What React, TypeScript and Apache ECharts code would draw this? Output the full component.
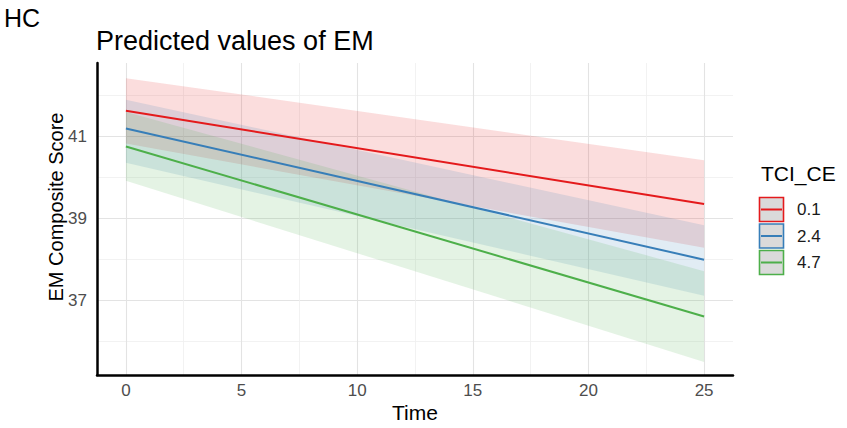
import React, { useEffect, useRef } from 'react';
import * as echarts from 'echarts';

// ---- data ----
const timePoints = [0, 25];
const tciLevels = ['0.1', '2.4', '4.7'];
const predicted = [
  [41.63, 39.35],
  [41.2, 37.99],
  [40.76, 36.6],
];
const lowerCI = [
  [40.83, 38.28],
  [40.36, 37.11],
  [39.92, 35.49],
];
const upperCI = [
  [42.43, 40.42],
  [41.9, 38.83],
  [41.6, 37.71],
];
const xMajorTicks = [0, 5, 10, 15, 20, 25];
const xMinorTicks = [2.5, 7.5, 12.5, 17.5, 22.5];
const yMajorTicks = [37, 39, 41];
const yMinorTicks = [36, 38, 40, 42];

const palette = ['#E41A1C', '#377EB8', '#4DAF4A'];
const FONT = 'Liberation Sans, Arial, Helvetica, sans-serif';

function rgba(hex: string, a: number) {
  const n = parseInt(hex.slice(1), 16);
  return `rgba(${(n >> 16) & 255},${(n >> 8) & 255},${n & 255},${a})`;
}

export default function App() {
  const ref = useRef<HTMLDivElement>(null);

  useEffect(() => {
    if (!ref.current) return;
    const chart = echarts.init(ref.current, null, { renderer: 'svg' });

    const xRange = { min: -1.25, max: 26.25 };
    const yRange = { min: 35.17, max: 42.8 };

    const lineSeries = tciLevels.map((lvl, i) => ({
      name: lvl,
      type: 'line',
      xAxisIndex: 0,
      yAxisIndex: 0,
      data: timePoints.map((t, j) => [t, predicted[i][j]]),
      showSymbol: false,
      symbol: 'none',
      lineStyle: { color: palette[i], width: 2 },
      itemStyle: { color: palette[i] },
      z: 5,
      silent: true,
    }));

    const ribbonSeries = {
      type: 'custom',
      xAxisIndex: 0,
      yAxisIndex: 0,
      data: tciLevels.map((_, i) => [i]),
      encode: { x: 0, y: 0 },
      silent: true,
      z: 2,
      renderItem: (params: any, api: any) => {
        const g = api.value(0);
        const up = timePoints.map((t, j) => api.coord([t, upperCI[g][j]]));
        const lo = timePoints.map((t, j) => api.coord([t, lowerCI[g][j]])).reverse();
        return {
          type: 'polygon',
          shape: { points: up.concat(lo) },
          style: { fill: rgba(palette[g], 0.15) },
        };
      },
    };

    const legendGraphics: any[] = [
      {
        type: 'text',
        left: 761,
        top: 163,
        style: { text: 'TCI_CE', fontSize: 21, fontFamily: FONT, fill: '#000' },
      },
    ];
    tciLevels.forEach((lvl, i) => {
      const cy = 209.5 + i * 26.5;
      legendGraphics.push({
        type: 'rect',
        shape: { x: 759.5, y: cy - 12, width: 24, height: 24 },
        style: { fill: '#dadada', stroke: palette[i], lineWidth: 1.6 },
      });
      legendGraphics.push({
        type: 'line',
        shape: { x1: 761, y1: cy, x2: 782, y2: cy },
        style: { stroke: palette[i], lineWidth: 2 },
      });
      legendGraphics.push({
        type: 'text',
        x: 797,
        y: cy,
        style: {
          text: lvl,
          fontSize: 17,
          fontFamily: FONT,
          fill: '#1a1a1a',
          verticalAlign: 'middle',
        },
      });
    });

    const option: any = {
      animation: false,
      backgroundColor: '#ffffff',
      textStyle: { fontFamily: FONT },
      grid: { left: 97, top: 63, width: 636, height: 312, containLabel: false },
      xAxis: [
        {
          type: 'value',
          ...xRange,
          position: 'bottom',
          axisLine: { show: true, onZero: false, lineStyle: { color: '#000', width: 2.5 } },
          axisTick: { show: false, customValues: xMajorTicks },
          axisLabel: {
            customValues: xMajorTicks,
            color: '#4d4d4d',
            fontSize: 17,
            margin: 7,
            fontFamily: FONT,
          },
          splitLine: { show: true, lineStyle: { color: '#e3e3e3', width: 1.1 } },
        },
        {
          type: 'value',
          ...xRange,
          position: 'top',
          axisLine: { show: false },
          axisTick: { show: false, customValues: xMinorTicks },
          axisLabel: { show: false, customValues: xMinorTicks },
          splitLine: { show: true, lineStyle: { color: '#efefef', width: 0.8 } },
        },
      ],
      yAxis: [
        {
          type: 'value',
          ...yRange,
          position: 'left',
          axisLine: { show: true, onZero: false, lineStyle: { color: '#000', width: 2.5 } },
          axisTick: { show: false, customValues: yMajorTicks },
          axisLabel: {
            customValues: yMajorTicks,
            color: '#4d4d4d',
            fontSize: 17,
            margin: 10,
            fontFamily: FONT,
          },
          splitLine: { show: true, lineStyle: { color: '#e3e3e3', width: 1.1 } },
        },
        {
          type: 'value',
          ...yRange,
          position: 'right',
          axisLine: { show: false },
          axisTick: { show: false, customValues: yMinorTicks },
          axisLabel: { show: false, customValues: yMinorTicks },
          splitLine: { show: true, lineStyle: { color: '#efefef', width: 0.8 } },
        },
      ],
      series: [ribbonSeries, ...lineSeries],
      graphic: [
        {
          type: 'text',
          left: 4,
          top: 5,
          style: { text: 'HC', fontSize: 25, fontFamily: FONT, fill: '#000' },
        },
        {
          type: 'text',
          left: 96,
          top: 27,
          style: { text: 'Predicted values of EM', fontSize: 27, fontFamily: FONT, fill: '#000' },
        },
        {
          type: 'text',
          x: 56,
          y: 207,
          rotation: Math.PI / 2,
          style: {
            text: 'EM Composite Score',
            fontSize: 20,
            fontFamily: FONT,
            fill: '#000',
            align: 'center',
            verticalAlign: 'middle',
          },
        },
        {
          type: 'text',
          x: 415,
          y: 412,
          style: {
            text: 'Time',
            fontSize: 21,
            fontFamily: FONT,
            fill: '#000',
            align: 'center',
            verticalAlign: 'middle',
          },
        },
        ...legendGraphics,
      ],
    };

    chart.setOption(option);
    return () => chart.dispose();
  }, []);

  return <div ref={ref} style={{ width: 847, height: 428, position: 'absolute', left: 0, top: 0 }} />;
}
